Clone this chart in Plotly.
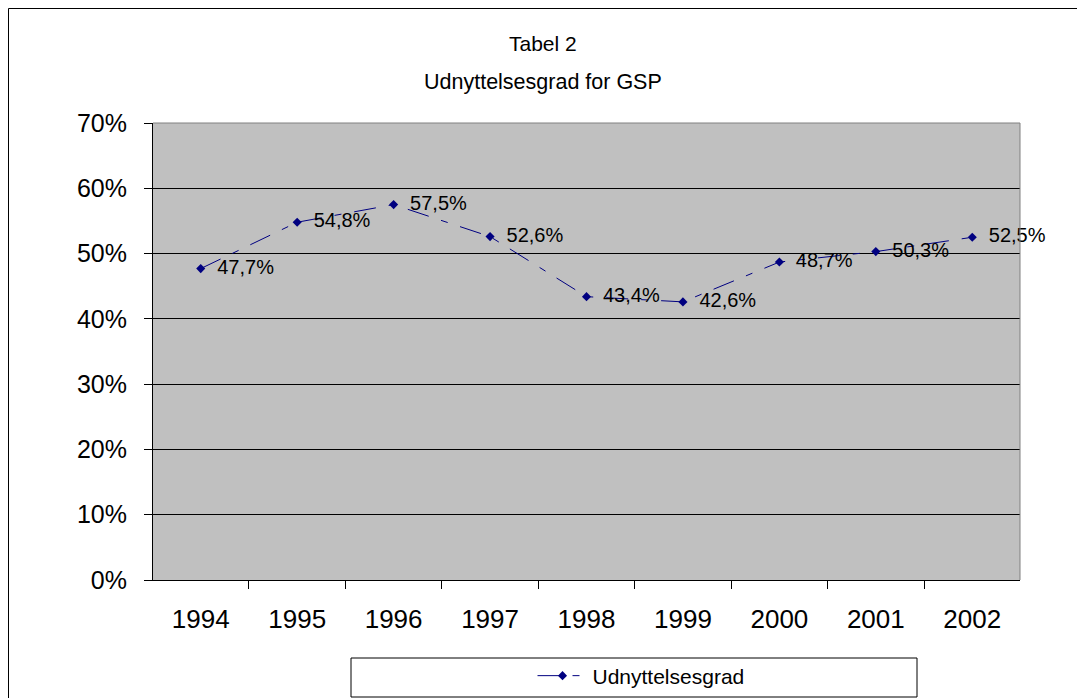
import plotly.graph_objects as go

years = ["1994", "1995", "1996", "1997", "1998", "1999", "2000", "2001", "2002"]
values = [0.477, 0.548, 0.575, 0.526, 0.434, 0.426, 0.487, 0.503, 0.525]
series_name = "Udnyttelsesgrad"
title_lines = ["Tabel 2", "Udnyttelsesgrad for GSP"]

OFF = 8  # page body margin
W, H = 1085 - OFF, 698 - OFF
L, R, T, B = 153 - OFF, 1020 - OFF, 123 - OFF, 580 - OFF
pw, ph = R - L, B - T


def px(x):
    return (x - OFF - L) / pw


def py(y):
    return (B - (y - OFF)) / ph


def cx(x):
    return (x - OFF) / W


def cy(y):
    return 1 - (y - OFF) / H


FONT = "Liberation Sans, Arial, sans-serif"

fig = go.Figure()
fig.add_trace(go.Scatter(
    x=years, y=values, name=series_name,
    mode="lines+markers+text",
    line=dict(color="#000080", width=1, dash="22px,13px,7px,13px"),
    marker=dict(symbol="diamond", size=7, color="#000080"),
    texttemplate="\u00a0\u00a0%{y:.1%}",
    textposition="middle right",
    textfont=dict(family=FONT, size=20, color="black"),
    cliponaxis=False,
))

fig.update_layout(
    width=W, height=H,
    margin=dict(l=L, r=W - R, t=T, b=H - B, autoexpand=False),
    paper_bgcolor="white",
    plot_bgcolor="#C0C0C0",
    separators=",.",
    font=dict(family=FONT, color="black"),
    showlegend=True,
    legend=dict(
        xref="container", yref="container",
        x=cx(641), y=cy(676), xanchor="center", yanchor="middle",
        bgcolor="rgba(0,0,0,0)", borderwidth=0,
        itemwidth=50,
        font=dict(family=FONT, size=21, color="black"),
    ),
    xaxis=dict(
        type="category", automargin=False,
        showline=True, linecolor="black", linewidth=1,
        ticks="outside", ticklen=8, tickcolor="black", tickson="boundaries",
        showgrid=False,
        tickfont=dict(family=FONT, size=26, color="black"),
        ticklabelstandoff=16,
    ),
    yaxis=dict(
        range=[0, 0.7], automargin=False,
        tickvals=[0, 0.1, 0.2, 0.3, 0.4, 0.5, 0.6, 0.7],
        tickformat=".0%",
        showline=True, linecolor="black", linewidth=1,
        ticks="outside", ticklen=8, tickcolor="black",
        showgrid=True, gridcolor="black", gridwidth=1,
        zeroline=False,
        tickfont=dict(family=FONT, size=25, color="black"),
        ticklabelstandoff=12,
    ),
    annotations=[
        dict(text=title_lines[0], xref="paper", yref="paper",
             x=px(543), y=py(44), xanchor="center", yanchor="middle",
             showarrow=False, font=dict(family=FONT, size=21, color="black")),
        dict(text=title_lines[1], xref="paper", yref="paper",
             x=px(543), y=py(82), xanchor="center", yanchor="middle",
             showarrow=False, font=dict(family=FONT, size=21.5, color="black")),
    ],
    shapes=[
        dict(type="rect", xref="paper", yref="paper",
             x0=px(8.5), x1=px(1095), y0=py(705), y1=py(8.5),
             line=dict(color="black", width=1), fillcolor="rgba(0,0,0,0)", layer="below"),
        dict(type="line", xref="paper", yref="paper", x0=0, x1=1, y0=1, y1=1,
             line=dict(color="#808080", width=1)),
        dict(type="line", xref="paper", yref="paper", x0=1, x1=1, y0=0, y1=1,
             line=dict(color="#808080", width=1)),
        dict(type="rect", xref="paper", yref="paper",
             x0=px(351), x1=px(917), y0=py(697), y1=py(658),
             line=dict(color="black", width=1), fillcolor="rgba(0,0,0,0)"),
    ],
)

fig.write_html("out.html")
